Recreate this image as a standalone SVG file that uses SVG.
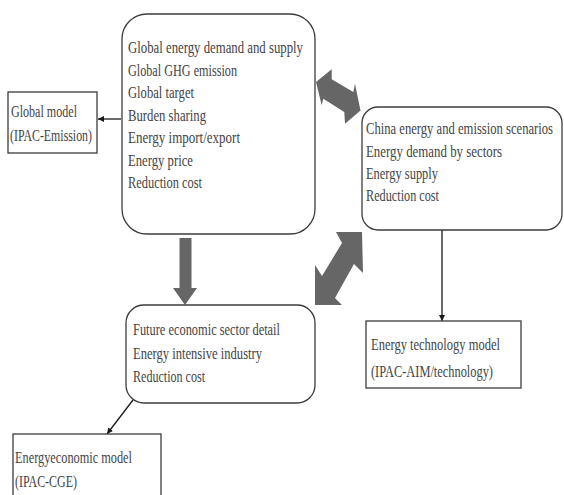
<svg xmlns="http://www.w3.org/2000/svg" width="564" height="495" viewBox="0 0 564 495">
<style>
.box{fill:#fff;stroke:#3c3c3c;stroke-width:1.3}
.t{font-family:"Liberation Serif","Times New Roman",serif;font-size:16.5px;fill:#444444}
.ln{stroke:#1a1a1a;stroke-width:1.3;fill:none}
.big{fill:#666666}
</style>
<defs>
<marker id="ah" viewBox="0 0 10 10" refX="10" refY="5" markerWidth="6" markerHeight="6" markerUnits="userSpaceOnUse" orient="auto">
<path d="M0,0 L10,5 L0,10 z" fill="#1a1a1a"/>
</marker>
</defs>
<rect width="564" height="495" fill="#fff"/>
<g id="connectors">
<line class="ln" x1="121" y1="119" x2="98" y2="119" marker-end="url(#ah)"/>
<line class="ln" x1="442" y1="230" x2="442" y2="321" marker-end="url(#ah)"/>
<line class="ln" x1="133" y1="400" x2="107" y2="434" marker-end="url(#ah)"/>
<polygon class="big" points="179.5,238 191.5,238 191.5,288 197,288 185,305 173,288 179.5,288"/>
<polygon class="big" points="316,82 331.7,69.3 331.7,79.3 353.3,92 355,83.7 360.5,110.5 345,123.7 344.3,112 323.3,98.7 321.7,105.3"/>
<polygon class="big" points="362,232 336,232 342,243 322,276 315,265 315,305 342,305 335,298 354,264 363,273"/>
</g>
<g id="global-box">
<rect class="box" x="122" y="14" width="193" height="220" rx="25"/>
<text class="t" x="128" y="53" textLength="175" lengthAdjust="spacingAndGlyphs">Global energy demand and supply</text>
<text class="t" x="128" y="75.5" textLength="109" lengthAdjust="spacingAndGlyphs">Global GHG emission</text>
<text class="t" x="128" y="98" textLength="66" lengthAdjust="spacingAndGlyphs">Global target</text>
<text class="t" x="128" y="120.5" textLength="78" lengthAdjust="spacingAndGlyphs">Burden sharing</text>
<text class="t" x="128" y="143" textLength="112" lengthAdjust="spacingAndGlyphs">Energy import/export</text>
<text class="t" x="128" y="165.5" textLength="65" lengthAdjust="spacingAndGlyphs">Energy price</text>
<text class="t" x="128" y="188" textLength="74" lengthAdjust="spacingAndGlyphs">Reduction cost</text>
</g>
<g id="global-model">
<rect class="box" x="8" y="92" width="89" height="61"/>
<text class="t" x="11" y="117" textLength="66" lengthAdjust="spacingAndGlyphs">Global model</text>
<text class="t" x="10" y="141" textLength="82" lengthAdjust="spacingAndGlyphs">(IPAC-Emission)</text>
</g>
<g id="china-box">
<rect class="box" x="362" y="107" width="200" height="123" rx="16"/>
<text class="t" transform="translate(366,134) scale(0.8,1)" x="0" y="0" textLength="233.75" lengthAdjust="spacingAndGlyphs">China energy and emission scenarios</text>
<text class="t" x="366" y="156.5" textLength="136" lengthAdjust="spacingAndGlyphs">Energy demand by sectors</text>
<text class="t" x="366" y="179" textLength="72" lengthAdjust="spacingAndGlyphs">Energy supply</text>
<text class="t" x="366" y="200.5" textLength="73" lengthAdjust="spacingAndGlyphs">Reduction cost</text>
</g>
<g id="sector-box">
<rect class="box" x="126" y="305" width="189" height="98" rx="18"/>
<text class="t" x="133" y="335" textLength="147" lengthAdjust="spacingAndGlyphs">Future economic sector detail</text>
<text class="t" x="133" y="359" textLength="129" lengthAdjust="spacingAndGlyphs">Energy intensive industry</text>
<text class="t" x="133" y="381.5" textLength="72" lengthAdjust="spacingAndGlyphs">Reduction cost</text>
</g>
<g id="tech-model">
<rect class="box" x="366" y="321" width="155" height="67"/>
<text class="t" x="371" y="350" textLength="129" lengthAdjust="spacingAndGlyphs">Energy technology model</text>
<text class="t" x="371" y="376.5" textLength="122" lengthAdjust="spacingAndGlyphs">(IPAC-AIM/technology)</text>
</g>
<g id="cge-model">
<rect class="box" x="13" y="434" width="148" height="80"/>
<text class="t" x="15" y="463" textLength="117" lengthAdjust="spacingAndGlyphs">Energyeconomic model</text>
<text class="t" x="15" y="486.5" textLength="62" lengthAdjust="spacingAndGlyphs">(IPAC-CGE)</text>
</g>
</svg>
